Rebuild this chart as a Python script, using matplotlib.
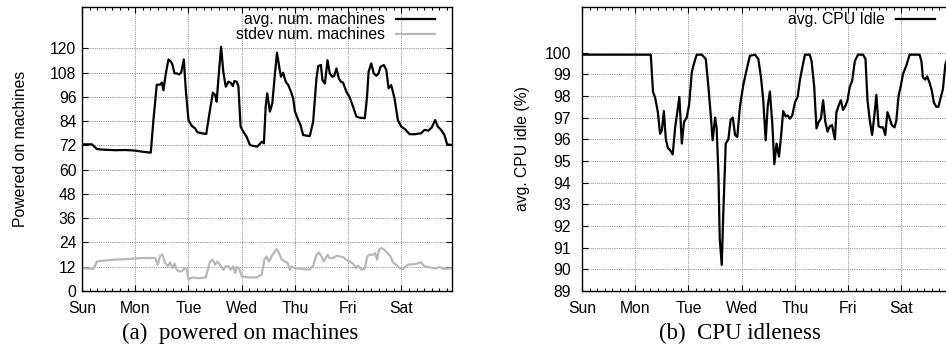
import matplotlib.pyplot as plt
from matplotlib.ticker import AutoMinorLocator

# hourly averages over one week (x in hours since Sunday 00:00)
days = ['Sun', 'Mon', 'Tue', 'Wed', 'Thu', 'Fri', 'Sat']

avg_hours = [0, 4.5, 6.7, 9, 15, 19.5, 24, 27, 31, 32.2, 33.7, 35.2, 36, 36.7, 37.8, 39, 40.2, 40.8,
             41.7, 42.7, 43.8, 44.7, 45.9, 46.8, 48, 49.5, 51, 52, 54, 56, 57.7, 59, 60, 60.7, 61.8,
             62.7, 63.7, 64.8, 66, 67, 68, 68.7, 69.7, 70.5, 71.5, 72.7, 74.2, 75.7, 77.2, 79, 80.2,
             81, 82, 82.8, 83.5, 84.7, 85.8, 87, 87.9, 88.9, 89.7, 90.7, 91.8, 93, 94.2, 95.2, 96,
             97.5, 98.5, 99.7, 101.2, 102.7, 104.2, 105.7, 106.5, 107.7, 108.4, 109.5, 110.7, 111.7,
             112.8, 113.7, 114.7, 115.8, 116.7, 117.7, 119.2, 120.7, 122.2, 123.7, 125.2, 127.5,
             128.5, 129.2, 130.4, 131.5, 132.7, 133.7, 134.6, 136.1, 137.2, 138.2, 139.4, 140.9,
             142.4, 143.9, 145.7, 147.7, 150, 152.9, 154.4, 156.2, 157.7, 159.2, 160.4, 161.9,
             163.4, 164.6, 166.8]
avg_machines = [72.5, 72.5, 70.2, 69.9, 69.6, 69.7, 69.4, 68.9, 68.4, 84.5, 102, 102, 103, 99.3, 107.6,
                114.5, 113.3, 111.7, 107.6, 107.6, 107.1, 107.9, 114.5, 99.3, 84.5, 81.6, 80.4, 78.5,
                78, 77.6, 89.5, 98, 96.9, 93.6, 109.2, 120.7, 108.4, 101, 103.5, 103, 101.3, 103.8,
                103.5, 101.3, 81.3, 78.8, 76.3, 72.2, 71.7, 71.4, 72.7, 73.8, 73, 91.1, 97.7, 88.7,
                92.8, 107.6, 117.8, 110.9, 105.9, 107.9, 103.5, 101.8, 98.5, 95.2, 88.7, 84.5, 82.1,
                77.1, 76.8, 76.6, 83.7, 105.1, 111.2, 111.7, 104.3, 102.6, 114.1, 107.6, 105.9, 106.3,
                110, 105.1, 103.5, 103, 98.5, 95.7, 91.1, 86.2, 85.7, 85.4, 96.1, 108.4, 112.5, 107.6,
                106.4, 107.6, 110.9, 111.7, 109.2, 100.2, 101.8, 95.2, 84.5, 81.3, 79.9, 77.5, 77.5,
                78, 79.6, 79.3, 80.9, 84.5, 81.3, 79.6, 77.1, 72.5, 72.2]

std_hours = [0, 5.2, 6.7, 10.5, 15, 21, 26.2, 33, 34.2, 35.2, 36.3, 37.5, 38.7, 39.7, 40.8, 41.7, 42.7,
             43.8, 45, 46.2, 47.2, 48, 50.2, 52.5, 55.8, 57.7, 58.9, 60, 61, 62.2, 63.7, 64.8, 66,
             67, 68.2, 69, 69.7, 70.8, 72, 75, 78.7, 81, 82.2, 83.2, 84.3, 85.8, 87.7, 88.8, 90,
             91.5, 92.7, 93.7, 94.5, 96, 99, 102.7, 104.2, 105.7, 106.7, 108, 109, 110.7, 111.7,
             113.2, 114.7, 116.2, 117.7, 119.2, 120.7, 122.2, 123.7, 124.4, 126, 127.5, 128.6,
             129.7, 131.2, 132.2, 133, 133.9, 134.9, 136.4, 137.9, 139.1, 140.2, 141.7, 143.2,
             144.7, 146.9, 149.9, 152.9, 154.4, 156.7, 159.7, 161.2, 163.1, 166.8]
std_machines = [11.3, 11, 14.6, 15.1, 15.5, 15.8, 16.3, 16.3, 13, 17.4, 17.9, 13.8, 12.2, 14.1, 11.3,
                13.5, 10.5, 9.7, 9.7, 11.3, 10.9, 5.9, 6.7, 6.3, 6.7, 14.6, 15.5, 13, 14.6, 13, 10.5,
                12.2, 12.2, 10.5, 12.2, 8.9, 11.8, 11.3, 7.2, 6.7, 6.7, 8.1, 15.5, 17.1, 14.6, 17.9,
                20.7, 18.8, 15.5, 14.6, 13.8, 10.5, 12.2, 11.3, 10.9, 10.5, 12.5, 17.9, 19.1, 17.1,
                14.6, 17.9, 16.3, 16.3, 17.4, 17.1, 16.8, 15.5, 14.6, 13.5, 11.3, 12.5, 10.5, 11.3,
                17.1, 17.9, 17.9, 18.8, 15.5, 20.4, 21.2, 20.4, 18.4, 17.1, 14.1, 13, 11.3, 10.9, 13,
                13.3, 14.1, 12.2, 11.7, 11.2, 11.8, 10.9, 11.3]

cpu_hours = [0, 31, 32, 33, 34.2, 35.2, 36, 36.9, 37.8, 38.7, 39.7, 40.9, 42, 43.9, 45, 46, 47.2, 48.3,
             49.5, 50.5, 51.7, 54, 55.8, 57, 58.2, 58.9, 60, 60.7, 61.5, 62.1, 63, 63.7, 64.8, 66,
             67, 68, 69, 70, 71.2, 72.7, 74.2, 75.7, 78, 79.5, 80.7, 81.7, 82.8, 83.7, 84.7, 85.8,
             86.7, 87.7, 88.8, 89.7, 90.7, 91.8, 92.7, 93.7, 94.8, 96, 97.2, 98.2, 99.3, 100.5,
             102.7, 103.5, 104.7, 105.7, 106.7, 107.7, 108.7, 109.7, 110.7, 111.7, 112.7, 114,
             114.7, 115.7, 116.7, 117.7, 118.8, 119.7, 120.7, 121.8, 123, 124.4, 126.7, 127.8,
             128.7, 129.7, 130.8, 131.7, 132.7, 133.7, 134.6, 135.7, 136.7, 137.7, 138.7, 139.7,
             140.9, 141.7, 142.7, 143.6, 144.7, 146.2, 147.7, 150, 152.2, 153, 153.7, 154.7, 155.6,
             156.7, 157.7, 158.6, 159.7, 160.7, 161.9, 162.7, 163.8, 165, 166.8]
cpu_idle = [99.9, 99.9, 98.2, 97.9, 97.25, 96.25, 96.4, 97.3, 96.0, 95.6, 95.5, 95.3, 96.55, 97.95,
            95.8, 96.8, 97.0, 97.6, 99.1, 99.5, 99.9, 99.9, 99.7, 98.4, 96.9, 95.95, 97.0, 96.5,
            94.4, 91.4, 90.2, 92.6, 95.8, 96.0, 96.9, 97.0, 96.2, 96.1, 97.5, 98.5, 99.2, 99.85,
            99.9, 99.7, 98.85, 97.8, 95.95, 97.5, 98.2, 96.7, 94.85, 95.8, 95.2, 96.1, 97.3, 97.05,
            97.1, 96.95, 97.1, 97.7, 97.95, 98.7, 99.3, 99.9, 99.9, 99.6, 98.4, 96.5, 96.8, 96.95,
            97.8, 96.8, 96.35, 96.6, 96.65, 96.0, 97.25, 97.55, 97.8, 97.35, 97.55, 97.8, 98.4,
            98.7, 99.6, 99.9, 99.9, 99.7, 97.8, 96.9, 96.2, 97.0, 98.05, 96.6, 96.55, 96.55, 96.2,
            97.25, 96.95, 96.65, 96.55, 96.85, 98.0, 98.4, 99.0, 99.4, 99.9, 99.9, 99.9, 99.6,
            98.85, 98.75, 98.9, 98.6, 98.25, 97.7, 97.5, 97.5, 98.0, 98.3, 99.45, 99.8, 99.9]

plt.rcParams['font.family'] = ['Liberation Sans', 'DejaVu Sans']
plt.rcParams['font.size'] = 11.3

fig = plt.figure(figsize=(9.46, 3.49), dpi=100)
W, H = 946.0, 349.0


def setup(ax, xlim, ylim, yticks, ypad):
    ax.set_xlim(*xlim)
    ax.set_ylim(*ylim)
    ax.set_xticks([24 * i for i in range(7)])
    ax.set_xticklabels(days)
    ax.xaxis.set_minor_locator(AutoMinorLocator(7))
    ax.set_yticks(yticks)
    ax.tick_params(which='both', direction='in', top=True, right=True, color='black')
    ax.tick_params(which='major', length=4, width=0.8)
    ax.tick_params(which='minor', length=2.2, width=0.8)
    ax.tick_params(axis='x', pad=7)
    ax.tick_params(axis='y', pad=ypad)
    ax.grid(True, which='major', color='#777777', linestyle=(0, (1, 1.2)), linewidth=0.6)
    for s in ax.spines.values():
        s.set_linewidth(1.0)
        s.set_color('black')


# (a) powered on machines
ax1 = fig.add_axes([82 / W, 58 / H, 370 / W, 284 / H])
ax1.plot(avg_hours, avg_machines, color='black', lw=1.6, label='avg. num. machines')
ax1.plot(std_hours, std_machines, color='#b8b8b8', lw=1.6, label='stdev num. machines')
setup(ax1, (0, 166.8), (0, 140.4), range(0, 121, 12), 4)
ax1.set_ylabel('Powered on machines', labelpad=16)
ax1.legend(loc='upper right', bbox_to_anchor=(435 / W, 337 / H), bbox_transform=fig.transFigure,
           frameon=False, markerfirst=False, handlelength=2.5, handletextpad=0.7,
           labelspacing=0.0, borderpad=0, borderaxespad=0, fontsize=11.3)

# (b) CPU idleness
ax2 = fig.add_axes([582 / W, 58 / H, 370 / W, 284 / H])
ax2.plot(cpu_hours, cpu_idle, color='black', lw=1.6, label='avg. CPU Idle')
setup(ax2, (0, 166.8), (89, 102.1), range(89, 101), 8)
ax2.set_ylabel('avg. CPU idle (%)', labelpad=10)
ax2.legend(loc='upper right', bbox_to_anchor=(935 / W, 337 / H), bbox_transform=fig.transFigure,
           frameon=False, markerfirst=False, handlelength=2.5, handletextpad=0.7,
           borderpad=0, borderaxespad=0, fontsize=11.3)

cap = dict(ha='center', va='center', fontsize=16.5, family=['Liberation Serif', 'DejaVu Serif'])
fig.text(240 / W, 1 - 333 / H, '(a)  powered on machines', **cap)
fig.text(740 / W, 1 - 333 / H, '(b)  CPU idleness', **cap)

fig.savefig('out.png', dpi=100)
